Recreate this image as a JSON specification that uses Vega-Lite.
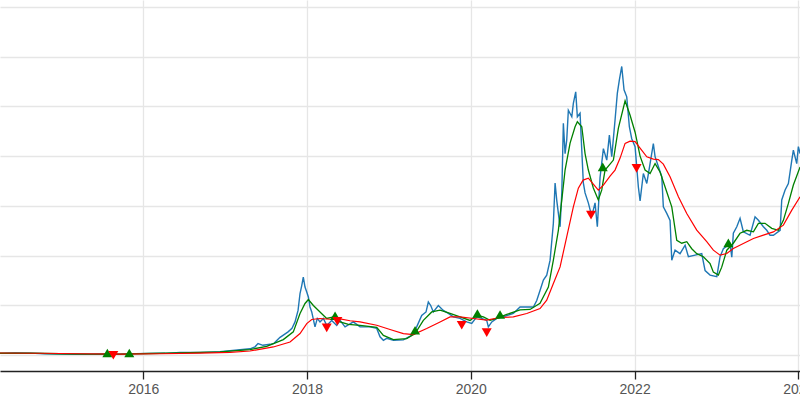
{
  "$schema": "https://vega.github.io/schema/vega-lite/v6.json",
  "width": 800,
  "height": 371,
  "autosize": {"type": "none"},
  "padding": {"left": 0, "top": 0, "right": 0, "bottom": 29},
  "background": "white",
  "config": {"view": {"stroke": null}},
  "datasets": {
    "price": [
      {"t":2014.25,"v":380},{"t":2014.433,"v":450},{"t":2014.616,"v":420},{"t":2014.80,"v":300},{"t":2014.983,"v":260},
      {"t":2015.166,"v":200},{"t":2015.349,"v":210},{"t":2015.532,"v":250},{"t":2015.716,"v":210},{"t":2015.899,"v":330},
      {"t":2016.082,"v":380},{"t":2016.265,"v":390},{"t":2016.448,"v":560},{"t":2016.571,"v":560},{"t":2016.693,"v":550},
      {"t":2016.815,"v":640},{"t":2016.937,"v":700},{"t":2017.059,"v":900},{"t":2017.181,"v":1100},{"t":2017.303,"v":1300},
      {"t":2017.364,"v":1700},{"t":2017.401,"v":2350},{"t":2017.462,"v":2000},{"t":2017.548,"v":2200},{"t":2017.597,"v":2400},
      {"t":2017.633,"v":3000},{"t":2017.670,"v":3600},{"t":2017.706,"v":4000},{"t":2017.768,"v":4700},{"t":2017.816,"v":5400},
      {"t":2017.853,"v":6700},{"t":2017.890,"v":9000},{"t":2017.914,"v":12400},{"t":2017.935,"v":14000},{"t":2017.954,"v":15700},
      {"t":2017.975,"v":13700},{"t":2017.996,"v":12700},{"t":2018.016,"v":11700},{"t":2018.036,"v":9700},{"t":2018.057,"v":8700},
      {"t":2018.097,"v":5700},{"t":2018.125,"v":7400},{"t":2018.158,"v":6700},{"t":2018.199,"v":7400},{"t":2018.24,"v":6000},
      {"t":2018.301,"v":7000},{"t":2018.362,"v":6000},{"t":2018.403,"v":7000},{"t":2018.464,"v":5700},{"t":2018.565,"v":6700},
      {"t":2018.647,"v":5700},{"t":2018.769,"v":5700},{"t":2018.851,"v":5400},{"t":2018.891,"v":3700},{"t":2018.932,"v":3000},
      {"t":2018.973,"v":3400},{"t":2019.054,"v":3000},{"t":2019.176,"v":3100},{"t":2019.278,"v":4000},{"t":2019.339,"v":5700},
      {"t":2019.40,"v":8000},{"t":2019.453,"v":8700},{"t":2019.481,"v":10700},{"t":2019.51,"v":10000},{"t":2019.542,"v":8700},
      {"t":2019.603,"v":10000},{"t":2019.664,"v":9000},{"t":2019.726,"v":8400},{"t":2019.787,"v":7700},{"t":2019.868,"v":7400},
      {"t":2019.95,"v":6700},{"t":2020.011,"v":6400},{"t":2020.072,"v":7700},{"t":2020.133,"v":7400},{"t":2020.194,"v":7000},
      {"t":2020.214,"v":5700},{"t":2020.256,"v":6700},{"t":2020.317,"v":7400},{"t":2020.397,"v":7700},{"t":2020.519,"v":8400},
      {"t":2020.601,"v":9700},{"t":2020.683,"v":9700},{"t":2020.764,"v":9700},{"t":2020.805,"v":11000},{"t":2020.845,"v":13000},
      {"t":2020.886,"v":15100},{"t":2020.927,"v":16100},{"t":2020.968,"v":19100},{"t":2021.008,"v":26500},{"t":2021.029,"v":34600},
      {"t":2021.05,"v":31000},{"t":2021.09,"v":25800},{"t":2021.111,"v":32600},{"t":2021.13,"v":46600},{"t":2021.151,"v":40500},
      {"t":2021.171,"v":43200},{"t":2021.191,"v":49200},{"t":2021.233,"v":47900},{"t":2021.252,"v":50600},{"t":2021.281,"v":52900},
      {"t":2021.301,"v":47900},{"t":2021.334,"v":48600},{"t":2021.355,"v":41200},{"t":2021.374,"v":34600},{"t":2021.395,"v":32600},
      {"t":2021.435,"v":30600},{"t":2021.477,"v":27900},{"t":2021.517,"v":30600},{"t":2021.545,"v":25800},{"t":2021.578,"v":35700},
      {"t":2021.619,"v":41500},{"t":2021.66,"v":39200},{"t":2021.692,"v":44200},{"t":2021.721,"v":39900},{"t":2021.761,"v":47200},
      {"t":2021.789,"v":52600},{"t":2021.814,"v":55300},{"t":2021.843,"v":58000},{"t":2021.871,"v":53300},{"t":2021.904,"v":51900},
      {"t":2021.936,"v":45900},{"t":2021.965,"v":43500},{"t":2022.006,"v":41900},{"t":2022.046,"v":33800},{"t":2022.067,"v":31000},
      {"t":2022.107,"v":36500},{"t":2022.149,"v":34500},{"t":2022.189,"v":38500},{"t":2022.229,"v":42500},{"t":2022.25,"v":39900},
      {"t":2022.29,"v":37900},{"t":2022.332,"v":35900},{"t":2022.351,"v":29800},{"t":2022.393,"v":28500},{"t":2022.433,"v":27100},
      {"t":2022.454,"v":19100},{"t":2022.494,"v":21100},{"t":2022.555,"v":20400},{"t":2022.617,"v":22100},{"t":2022.657,"v":19800},
      {"t":2022.739,"v":20100},{"t":2022.82,"v":20400},{"t":2022.861,"v":17000},{"t":2022.922,"v":16100},{"t":2023.004,"v":15800},
      {"t":2023.044,"v":19800},{"t":2023.084,"v":21400},{"t":2023.166,"v":22400},{"t":2023.187,"v":19700},{"t":2023.206,"v":24500},
      {"t":2023.248,"v":25800},{"t":2023.288,"v":27500},{"t":2023.328,"v":24800},{"t":2023.41,"v":24100},{"t":2023.471,"v":27800},
      {"t":2023.512,"v":27100},{"t":2023.573,"v":25800},{"t":2023.614,"v":25100},{"t":2023.654,"v":24100},{"t":2023.695,"v":24100},
      {"t":2023.777,"v":25100},{"t":2023.797,"v":31200},{"t":2023.838,"v":33200},{"t":2023.878,"v":34500},{"t":2023.92,"v":39200},
      {"t":2023.939,"v":41200},{"t":2023.98,"v":38500},{"t":2024.0,"v":41900},{"t":2024.021,"v":40500}
    ],
    "fast": [
      {"t":2014.25,"v":400},{"t":2014.616,"v":420},{"t":2014.983,"v":300},{"t":2015.349,"v":220},{"t":2015.716,"v":230},
      {"t":2016.082,"v":350},{"t":2016.448,"v":500},{"t":2016.693,"v":580},{"t":2016.937,"v":680},{"t":2017.181,"v":1000},
      {"t":2017.303,"v":1150},{"t":2017.507,"v":1800},{"t":2017.71,"v":3150},{"t":2017.832,"v":4700},{"t":2017.914,"v":8400},
      {"t":2017.975,"v":10400},{"t":2018.016,"v":11200},{"t":2018.077,"v":10000},{"t":2018.158,"v":8700},{"t":2018.24,"v":7400},
      {"t":2018.321,"v":7700},{"t":2018.403,"v":6700},{"t":2018.505,"v":6200},{"t":2018.647,"v":6000},{"t":2018.851,"v":5600},
      {"t":2018.932,"v":4000},{"t":2019.054,"v":3150},{"t":2019.217,"v":3350},{"t":2019.319,"v":4350},{"t":2019.42,"v":7000},
      {"t":2019.523,"v":8700},{"t":2019.624,"v":9050},{"t":2019.746,"v":8400},{"t":2019.868,"v":7700},{"t":2019.99,"v":7000},
      {"t":2020.072,"v":8050},{"t":2020.153,"v":7700},{"t":2020.235,"v":7000},{"t":2020.317,"v":7400},{"t":2020.439,"v":8200},
      {"t":2020.601,"v":9100},{"t":2020.723,"v":9200},{"t":2020.845,"v":10450},{"t":2020.947,"v":13700},{"t":2021.008,"v":19100},
      {"t":2021.069,"v":25100},{"t":2021.111,"v":31200},{"t":2021.151,"v":37200},{"t":2021.212,"v":42600},{"t":2021.273,"v":45900},
      {"t":2021.301,"v":46900},{"t":2021.355,"v":45900},{"t":2021.395,"v":40500},{"t":2021.435,"v":37200},{"t":2021.496,"v":33600},
      {"t":2021.557,"v":31200},{"t":2021.599,"v":33200},{"t":2021.639,"v":37200},{"t":2021.70,"v":38400},{"t":2021.741,"v":39200},
      {"t":2021.802,"v":45600},{"t":2021.884,"v":51100},{"t":2021.945,"v":48200},{"t":2022.006,"v":44800},{"t":2022.067,"v":40000},
      {"t":2022.128,"v":37200},{"t":2022.189,"v":36500},{"t":2022.25,"v":38500},{"t":2022.311,"v":36800},{"t":2022.393,"v":32800},
      {"t":2022.454,"v":29800},{"t":2022.515,"v":23100},{"t":2022.576,"v":22500},{"t":2022.637,"v":22800},{"t":2022.698,"v":21400},
      {"t":2022.759,"v":20400},{"t":2022.84,"v":19800},{"t":2022.922,"v":18400},{"t":2022.962,"v":16700},{"t":2023.023,"v":16100},
      {"t":2023.064,"v":17700},{"t":2023.126,"v":21100},{"t":2023.206,"v":22500},{"t":2023.288,"v":24500},{"t":2023.37,"v":25100},
      {"t":2023.451,"v":24800},{"t":2023.512,"v":26500},{"t":2023.593,"v":26500},{"t":2023.675,"v":25500},{"t":2023.756,"v":25100},
      {"t":2023.817,"v":27100},{"t":2023.878,"v":30500},{"t":2023.939,"v":34200},{"t":2024.021,"v":37800}
    ],
    "slow": [
      {"t":2014.25,"v":450},{"t":2014.738,"v":400},{"t":2015.227,"v":300},{"t":2015.716,"v":240},{"t":2016.204,"v":300},
      {"t":2016.693,"v":420},{"t":2017.059,"v":600},{"t":2017.303,"v":860},{"t":2017.588,"v":1670},{"t":2017.792,"v":2670},
      {"t":2017.914,"v":4360},{"t":2017.996,"v":6370},{"t":2018.057,"v":7180},{"t":2018.158,"v":7380},{"t":2018.321,"v":7180},
      {"t":2018.403,"v":7300},{"t":2018.525,"v":6930},{"t":2018.647,"v":6690},{"t":2018.851,"v":6030},{"t":2019.013,"v":5170},
      {"t":2019.176,"v":4360},{"t":2019.298,"v":4160},{"t":2019.461,"v":5370},{"t":2019.624,"v":6690},{"t":2019.746,"v":7700},
      {"t":2019.868,"v":7700},{"t":2020.031,"v":7380},{"t":2020.194,"v":7040},{"t":2020.357,"v":7580},{"t":2020.519,"v":7700},
      {"t":2020.683,"v":8380},{"t":2020.845,"v":9390},{"t":2020.927,"v":11060},{"t":2021.008,"v":14410},{"t":2021.09,"v":17750},
      {"t":2021.171,"v":23780},{"t":2021.252,"v":29810},{"t":2021.313,"v":33570},{"t":2021.371,"v":35180},{"t":2021.435,"v":35580},
      {"t":2021.496,"v":34370},{"t":2021.557,"v":33170},{"t":2021.619,"v":34170},{"t":2021.70,"v":35980},{"t":2021.761,"v":37190},
      {"t":2021.823,"v":39600},{"t":2021.884,"v":42550},{"t":2021.945,"v":43010},{"t":2022.006,"v":42910},{"t":2022.067,"v":41610},
      {"t":2022.149,"v":39860},{"t":2022.229,"v":39400},{"t":2022.29,"v":39300},{"t":2022.351,"v":38390},{"t":2022.433,"v":35840},
      {"t":2022.535,"v":31820},{"t":2022.637,"v":28480},{"t":2022.759,"v":25130},{"t":2022.881,"v":22810},{"t":2022.962,"v":21110},
      {"t":2023.044,"v":20100},{"t":2023.126,"v":20440},{"t":2023.206,"v":21450},{"t":2023.328,"v":22450},{"t":2023.451,"v":23460},
      {"t":2023.573,"v":24120},{"t":2023.695,"v":24780},{"t":2023.817,"v":26130},{"t":2023.92,"v":29150},{"t":2024.021,"v":31820}
    ],
    "buy": [
      {"t":2015.561,"v":460},{"t":2015.829,"v":460},{"t":2018.342,"v":7940},{"t":2019.319,"v":5030},
      {"t":2020.08,"v":8380},{"t":2020.357,"v":8180},{"t":2021.611,"v":37850},{"t":2023.145,"v":22570}
    ],
    "sell": [
      {"t":2015.634,"v":0},{"t":2018.24,"v":5490},{"t":2018.37,"v":6830},{"t":2019.889,"v":6030},
      {"t":2020.194,"v":4560},{"t":2021.468,"v":28140},{"t":2022.024,"v":37530}
    ]
  },
  "encoding": {
    "x": {
      "field": "t", "type": "quantitative",
      "scale": {"domain": [2014.25, 2024.02], "nice": false, "zero": false},
      "axis": {
        "title": null, "values": [2016, 2018, 2020, 2022, 2024], "format": "d",
        "grid": true, "gridColor": "#e6e6e6", "gridWidth": 1.3,
        "domainColor": "#222222", "domainWidth": 1.3, "tickColor": "#222222", "tickWidth": 1.3, "tickSize": 8,
        "labelFont": "Liberation Sans", "labelFontSize": 14, "labelColor": "#555555", "labelPadding": 3,
        "labelFlush": false, "labelOverlap": false
      }
    },
    "y": {
      "field": "v", "type": "quantitative",
      "scale": {"domain": [-3160, 71350], "nice": false, "zero": false},
      "axis": {
        "title": null, "values": [0, 10000, 20000, 30000, 40000, 50000, 60000, 70000],
        "labels": false, "ticks": false, "domain": false,
        "grid": true, "gridColor": "#e6e6e6", "gridWidth": 1.3
      }
    }
  },
  "layer": [
    {"data": {"name": "price"}, "mark": {"type": "line", "color": "#1f77b4", "strokeWidth": 1.4, "clip": true}},
    {"data": {"name": "fast"}, "mark": {"type": "line", "color": "green", "strokeWidth": 1.3, "clip": true}},
    {"data": {"name": "slow"}, "mark": {"type": "line", "color": "red", "strokeWidth": 1.2, "clip": true}},
    {"data": {"name": "buy"}, "mark": {"type": "point", "shape": "triangle-up", "filled": true, "color": "green", "opacity": 1, "size": 100}},
    {"data": {"name": "sell"}, "mark": {"type": "point", "shape": "triangle-down", "filled": true, "color": "red", "opacity": 1, "size": 100}}
  ]
}
